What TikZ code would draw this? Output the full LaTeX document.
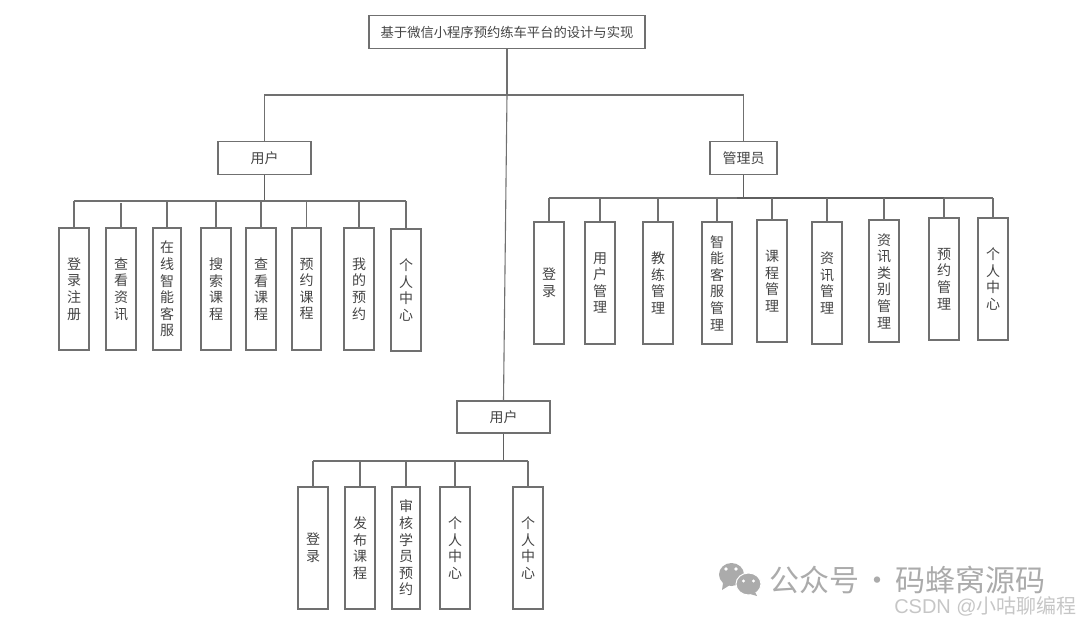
\documentclass[tikz,border=0pt]{standalone}
\usepackage{fontspec}
\setmainfont{Noto Sans CJK SC}
\setsansfont{Liberation Sans}
\definecolor{boxline}{HTML}{707070}
\definecolor{boxtext}{HTML}{444444}
\definecolor{markone}{HTML}{ABABAB}
\definecolor{marktwo}{HTML}{C6C6C6}
\tikzset{
    bigbox/.style={draw=boxline, line width=1.3pt, text=boxtext, inner sep=0pt, minimum height=33pt, font=\fontsize{14}{16}\selectfont},
    leaf/.style={draw=boxline, line width=1.3pt, text=boxtext, inner sep=0pt, minimum height=122pt, align=center, font=\fontsize{14}{16.6}\selectfont},
    link/.style={draw=boxline, line width=1.1pt},
    heavy/.style={draw=boxline!85!black, line width=1.7pt}
}
\begin{document}
\begin{tikzpicture}[x=1pt, y=-1pt]
    \useasboundingbox (0,0) rectangle (1080,623);

    % top level
    \node[bigbox, minimum width=276pt, font=\fontsize{13.3}{16}\selectfont] (title) at (507,32) {基于微信小程序预约练车平台的设计与实现};
    \node[bigbox, minimum width=93pt] (user) at (264.5,158) {用户};
    \node[bigbox, minimum width=67pt] (admin) at (743.5,158) {管理员};
    \node[bigbox, minimum width=93pt, minimum height=32pt] (coach) at (503.5,417) {用户};

    \coordinate (topjoin) at (507,95);
    \draw[link] (title.south) -- (topjoin);
    \draw[link] (user.north) |- (topjoin) -| (admin.north);
    \draw[link] (topjoin) -- (coach.north);

    % user branch
    \foreach \nm/\px/\py/\bw/\txt in {
        ua/74/289/30/{登\\录\\注\\册},
        ub/121/289/30/{查\\看\\资\\讯},
        uc/167/289/28/{在\\线\\智\\能\\客\\服},
        ud/216/289/30/{搜\\索\\课\\程},
        ue/261/289/30/{查\\看\\课\\程},
        uf/306.5/289/29/{预\\约\\课\\程},
        ug/359/289/30/{我\\的\\预\\约},
        uh/406/290/30/{个\\人\\中\\心}}
        \node[leaf, minimum width=\bw pt] (\nm) at (\px,\py) {\txt};

    \coordinate (userjoin) at (264.5,201);
    \draw[heavy] (user.south) -- (userjoin);
    \draw[link] (ua.north |- userjoin) -- (uh.north |- userjoin);
    \foreach \nm in {ua,uc,ud,ue,uf,ug,uh}
        \draw[link] (\nm.north) -- (\nm.north |- userjoin);
    \draw[link] (ub.north) -- ++(0,-24);

    % admin branch
    \foreach \nm/\px/\py/\txt in {
        aa/549/283/{登\\录},
        ab/600/283/{用\\户\\管\\理},
        ac/658/283/{教\\练\\管\\理},
        ad/717/283/{智\\能\\客\\服\\管\\理},
        ae/772/281/{课\\程\\管\\理},
        af/827/283/{资\\讯\\管\\理},
        ag/884/281/{资\\讯\\类\\别\\管\\理},
        ah/944/279/{预\\约\\管\\理},
        ai/993/279/{个\\人\\中\\心}}
        \node[leaf, minimum width=30pt] (\nm) at (\px,\py) {\txt};

    \coordinate (adminjoin) at (743.5,198);
    \draw[heavy] (admin.south) -- (adminjoin);
    \draw[link] (aa.north |- adminjoin) -- (ai.north |- adminjoin);
    \draw[heavy] (737,198) -- (ah.north |- adminjoin);
    \foreach \nm in {aa,ab,ac,ad,ae,af,ag,ah,ai}
        \draw[link] (\nm.north) -- (\nm.north |- adminjoin);

    % third branch
    \foreach \nm/\px/\bw/\txt in {
        ca/313/30/{登\\录},
        cb/360/30/{发\\布\\课\\程},
        cc/406/28/{审\\核\\学\\员\\预\\约},
        cd/455/30/{个\\人\\中\\心},
        ce/528/30/{个\\人\\中\\心}}
        \node[leaf, minimum width=\bw pt] (\nm) at (\px,548) {\txt};

    \coordinate (coachjoin) at (503.5,461);
    \draw[heavy] (coach.south) -- (coachjoin);
    \draw[link] (ca.north |- coachjoin) -- (ce.north |- coachjoin);
    \foreach \nm in {ca,cb,cc,cd,ce}
        \draw[link] (\nm.north) -- (\nm.north |- coachjoin);

    % watermark
    \fill[markone] (731.5,574.5) ellipse (12.5pt and 11.5pt);
    \fill[markone] (723,583) -- (722,590) -- (730,585) -- cycle;
    \fill[white] (726,569) circle (1.8pt) (736,569) circle (1.8pt);
    \fill[markone, draw=white, line width=1pt] (748.5,584) ellipse (12.5pt and 11pt);
    \fill[markone] (755,592) -- (757,596) -- (750,594) -- cycle;
    \fill[white] (743.5,581) circle (1.6pt) (753.5,581) circle (1.6pt);
    \node[text=markone, inner sep=0pt, anchor=west, font=\fontsize{30}{32}\selectfont] (mark) at (769,580) {公众号\hspace{3.2pt}·\hspace{3.2pt}码蜂窝源码};
    \node[text=marktwo, inner sep=0pt, anchor=east, font=\fontsize{20}{22}\selectfont] (site) at (1077,606) {{\sffamily CSDN @}小咕聊编程};
\end{tikzpicture}
\end{document}
